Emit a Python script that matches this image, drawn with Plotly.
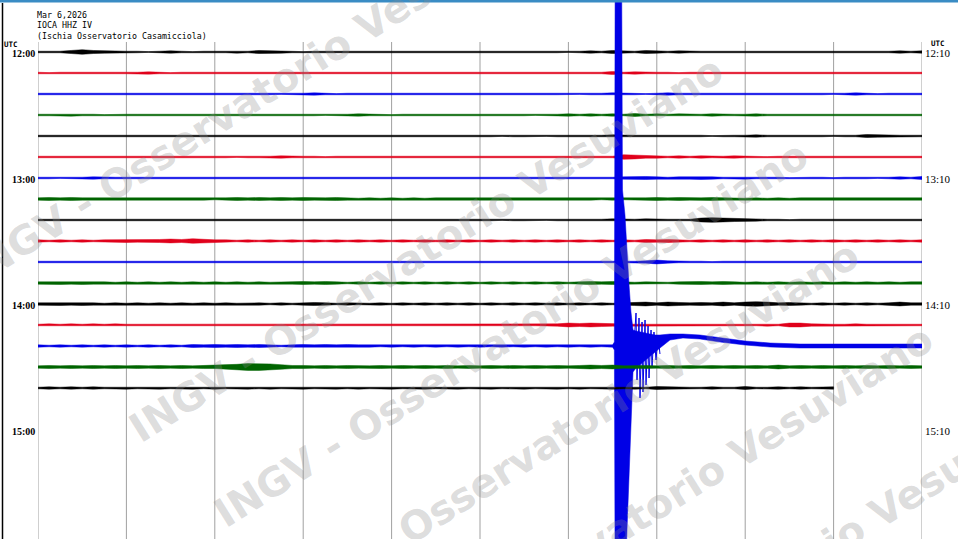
import plotly.graph_objects as go

# ---------------- data ----------------
station_date = "Mar 6,2026"
station_code = "IOCA HHZ IV"
station_name = "(Ischia Osservatorio Casamicciola)"

left_labels = ["12:00", "13:00", "14:00", "15:00"]     # every 6 rows
right_labels = ["12:10", "13:10", "14:10", "15:10"]
label_rows = [0, 6, 12, 18]

trace_colors = ["#000000", "#e0001b", "#0000e6", "#006400"]
minutes_per_row = 10
sample_step_min = 0.125      # one envelope value every 7.5 s

# amplitude envelope per row (unit = 0.38 px half-width), one digit per 7.5 s
amp_rows = [
    "2224643322" "1232122232" "4332122212" "2212221222" "1222122212" "3243243232" "2221222122" "2122212232" "3",  # 12:00
    "2122212222" "3212221212" "2212122212" "2122212122" "2121221212" "2242322212" "2122212212" "2212122212" "2",  # 12:10
    "2212221212" "2122212221" "2212232122" "2122212212" "2212122221" "2232212322" "2122212212" "2212321222" "2",  # 12:20
    "2223221222" "2122212222" "2212221223" "2212221222" "2122212232" "3232423232" "2322232222" "2122212222" "2",  # 12:30
    "2212221222" "2122212212" "2212221222" "2122212212" "2212221222" "2232222322" "2122232212" "2212243322" "2",  # 12:40
    "2212221222" "2122212212" "2232221222" "2122212212" "2212221222" "2226533232" "3223221222" "2122212212" "2",  # 12:50
    "2212232222" "2122212212" "2212221222" "2122212212" "2212221222" "2223443233" "4322322212" "2212221232" "4",  # 13:00
    "3434333232" "3232332343" "4343433432" "3232323332" "3233232323" "3232334343" "3433232323" "3232332323" "3",  # 13:10
    "2212221222" "2122212212" "2212221222" "2122212212" "2212221222" "2232232222" "5654332212" "2212221222" "2",  # 13:20
    "3232323343" "3454643323" "2323232323" "2323232323" "2323232323" "2323243432" "3232323232" "3232323232" "3",  # 13:30
    "2212221222" "2122212212" "2212221222" "2122212212" "2212221222" "2222235322" "2122212212" "2212221222" "2",  # 13:40
    "3343433232" "3232323232" "3233434323" "2323232323" "2323232323" "4343232234" "4343232323" "2323232323" "3",  # 13:50
    "3343432323" "2323232323" "3232343232" "2323232323" "2323232323" "2323453543" "4353565343" "2323232353" "3",  # 14:00
    "2323232322" "2322232223" "2232223222" "2322232223" "2232222354" "5432222322" "2232223255" "3222322232" "2",  # 14:10
    "3232323232" "3232434343" "4323434343" "3232323232" "3232323232" "323",                                    # 14:20 (to event)
    "3434343434" "3434344679" "9864434343" "3434343434" "3434343434" "5453443434" "3434343534" "3434343434" "3",  # 14:30
    "2323232232" "2322323223" "2322322323" "2232232232" "2322322323" "2232324322" "2322422323" "223",          # 14:40 (to 9 min)
]

# earthquake on the 14:20 row: time (min), half-width above / below baseline (px)
event_t   = [6.52, 6.530, 6.600, 6.612, 6.640, 6.663, 6.686, 6.708, 6.731,
             6.765, 6.810, 6.867, 6.923, 6.980, 7.036, 7.149, 7.296, 7.489, 7.715,
             7.998, 8.281, 8.620, 9.186, 10.0]
event_up  = [4, 426, 426, 156, 131, 91, 61, 34, 16,
             15, 14, 13, 12, 11, 11, 12, 12, 11, 8,
             5, 3, 2, 2, 2]
event_dn  = [4, 274, 274, 274, 254, 184, 124, 74, 26,
             22, 18, 14, 10, 6, 2, -6, -8, -7, -4,
             -1, 1, 2, 2, 2]
# coda spikes on the same row: time (min), offset (px, + = up)
coda_t   = [6.741, 6.765, 6.776, 6.799, 6.810, 6.833, 6.844, 6.867, 6.878,
            6.901, 6.912, 6.935, 6.946, 6.968, 6.991, 7.014, 7.036]
coda_off = [0, 33, -34, 28, -52, 24, -46, 26, -39, 20, -32, 16, -22, 14, -14, 10, -8]

AMP_UNIT_PX = 0.38
PX_PER_ROW = 21.0
tick_minutes = list(range(0, 11))

watermark = "INGV - Osservatorio Vesuviano"
# watermark line centres (paper fractions of the plot area) – estimated
wm_x = [(262 - 38) / 884, (426 - 38) / 884, (511 - 38) / 884, (562 - 38) / 884,
        (636 - 38) / 884, (776 - 38) / 884]
wm_y = [1 - 92 / 539, 1 - 249 / 539, 1 - 334 / 539, 1 - 434 / 539,
        1 - 518 / 539, 1 - 578 / 539]

# ---------------- figure ----------------
fig = go.Figure()

for px, py in zip(wm_x, wm_y):
    fig.add_annotation(x=px, y=py, xref="paper", yref="paper", text="<b>" + watermark + "</b>",
                       showarrow=False, textangle=-32, xanchor="center", yanchor="middle",
                       font=dict(family="DejaVu Sans", size=40, color="rgba(140,140,140,0.30)"))


def band(t, up_px, dn_px, row, color):
    upper = [row - u / PX_PER_ROW for u in up_px]
    lower = [row + d / PX_PER_ROW for d in dn_px]
    fig.add_trace(go.Scatter(
        x=list(t) + list(t)[::-1], y=upper + lower[::-1],
        mode="lines", fill="toself", fillcolor=color,
        line=dict(color=color, width=0.5), hoverinfo="skip", showlegend=False))


for r, s in enumerate(amp_rows):
    color = trace_colors[r % 4]
    amps = [int(c) * AMP_UNIT_PX for c in s]
    t = [k * sample_step_min for k in range(len(amps))]
    if r == 14:
        t = t + event_t
        up = amps + event_up
        dn = amps + event_dn
    else:
        up = amps
        dn = amps
    band(t, up, dn, r, color)
    if r == 14:
        fig.add_trace(go.Scatter(
            x=coda_t, y=[r - o / PX_PER_ROW for o in coda_off], mode="lines",
            line=dict(color=color, width=1), hoverinfo="skip", showlegend=False))

# vertical minute grid
for m in tick_minutes:
    fig.add_shape(type="line", xref="x", yref="y", x0=m, x1=m,
                  y0=-10 / PX_PER_ROW, y1=30, line=dict(color="#a0a0a0", width=1),
                  layer="below")

# time labels
lab_font = dict(family="Liberation Serif", size=10, color="#000000")
for lab, rlab, row in zip(left_labels, right_labels, label_rows):
    fig.add_annotation(x=0, y=row, xref="x", yref="y", text="<b>" + lab + "</b>",
                       showarrow=False, xanchor="right", yanchor="middle",
                       xshift=-1, yshift=-1, font=lab_font)
    fig.add_annotation(x=10, y=row, xref="x", yref="y", text=rlab,
                       showarrow=False, xanchor="left", yanchor="middle",
                       xshift=1, yshift=-1, font=dict(family="Liberation Serif", size=11, color="#000"))
fig.add_annotation(x=0, y=0, xref="x", yref="y", text="<b>UTC</b>", showarrow=False,
                   xanchor="left", yanchor="middle", xshift=-36, yshift=8,
                   font=dict(family="DejaVu Sans Mono", size=7.5, color="#000"))
fig.add_annotation(x=10, y=0, xref="x", yref="y", text="<b>UTC</b>", showarrow=False,
                   xanchor="left", yanchor="middle", xshift=7, yshift=9,
                   font=dict(family="DejaVu Sans Mono", size=7.5, color="#000"))

# header
mono = dict(family="DejaVu Sans Mono", size=8.3, color="#000000")
for i, txt in enumerate([station_date, station_code, station_name]):
    fig.add_annotation(x=0, y=(-37.5 + i * 10.5) / PX_PER_ROW, xref="x", yref="y",
                       text=txt, showarrow=False, xanchor="left", yanchor="middle",
                       xshift=-3, font=mono)

# screen chrome (top strip, left edge)
fig.add_shape(type="rect", xref="paper", yref="paper", x0=-0.05, x1=1.05,
              y0=1 - 2.5 / 539, y1=1.0, fillcolor="#3a8cc4", line=dict(width=0))
fig.add_shape(type="line", xref="paper", yref="paper", x0=-35.5 / 884, x1=-35.5 / 884,
              y0=0, y1=1 - 3 / 539, line=dict(color="#000", width=1.5))

fig.update_xaxes(range=[0, 10], visible=False, showgrid=False, zeroline=False)
fig.update_yaxes(range=[(539 - 52) / PX_PER_ROW, -52 / PX_PER_ROW], visible=False,
                 showgrid=False, zeroline=False)
fig.update_layout(width=958, height=539, margin=dict(l=38, r=36, t=0, b=0),
                  plot_bgcolor="#ffffff", paper_bgcolor="#ffffff", showlegend=False)

fig.write_html("out.html", config={"displayModeBar": False},
               post_script="document.body.style.margin='0px';")
